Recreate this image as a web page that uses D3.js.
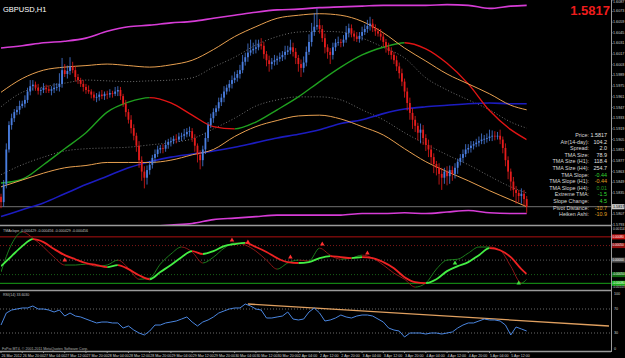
<!DOCTYPE html>
<html>
<head>
<meta charset="utf-8">
<script src="https://cdn.jsdelivr.net/npm/d3@7"></script>
<style>
  body { margin: 0; background: #000; overflow: hidden; }
  text { font-family: Arial, "Liberation Sans", sans-serif; }
</style>
</head>
<body>
<svg width="625" height="358"></svg>
<script>
// ---- data ----
const firstOpen = 1.5830;
const closes = [
  1.5823, 1.5846, 1.5892, 1.5924, 1.5933, 1.5941, 1.5944, 1.5949, 1.5952, 1.5957,
  1.5968, 1.5975, 1.5977, 1.5973, 1.5969, 1.5970, 1.5973, 1.5971, 1.5969, 1.5971,
  1.5973, 1.5974, 1.5978, 1.5996, 1.5991, 1.5995, 1.6001, 1.5996, 1.5987, 1.5983,
  1.5978, 1.5974, 1.5970, 1.5968, 1.5964, 1.5960, 1.5961, 1.5964, 1.5962, 1.5965,
  1.5964, 1.5966, 1.5965, 1.5968, 1.5970, 1.5962, 1.5952, 1.5941, 1.5931, 1.5920,
  1.5910, 1.5897, 1.5878, 1.5863, 1.5855, 1.5865, 1.5872, 1.5881, 1.5886, 1.5892,
  1.5894, 1.5893, 1.5898, 1.5902, 1.5903, 1.5906, 1.5905, 1.5909, 1.5910, 1.5912,
  1.5915, 1.5916, 1.5907, 1.5897, 1.5885, 1.5878, 1.5892, 1.5907, 1.5924, 1.5933,
  1.5941, 1.5946, 1.5954, 1.5960, 1.5968, 1.5973, 1.5978, 1.5983, 1.5986, 1.5991,
  1.5996, 1.6007, 1.6013, 1.6019, 1.6022, 1.6024, 1.6026, 1.6030, 1.6028, 1.6017,
  1.6009, 1.6004, 1.6007, 1.6009, 1.6011, 1.6013, 1.6016, 1.6020, 1.6022, 1.6026,
  1.6020, 1.6012, 1.6004, 1.5999, 1.6006, 1.6020, 1.6033, 1.6046, 1.6053, 1.6055,
  1.6050, 1.6038, 1.6026, 1.6020, 1.6016, 1.6026, 1.6032, 1.6033, 1.6032, 1.6036,
  1.6045, 1.6051, 1.6044, 1.6040, 1.6037, 1.6041, 1.6046, 1.6050, 1.6054, 1.6057,
  1.6051, 1.6047, 1.6044, 1.6040, 1.6033, 1.6026, 1.6021, 1.6016, 1.6009, 1.6001,
  1.5992, 1.5981, 1.5968, 1.5953, 1.5940, 1.5931, 1.5923, 1.5914, 1.5918, 1.5907,
  1.5898, 1.5892, 1.5882, 1.5873, 1.5868, 1.5860, 1.5855, 1.5863, 1.5857, 1.5865,
  1.5860, 1.5868, 1.5876, 1.5881, 1.5886, 1.5892, 1.5894, 1.5897, 1.5899, 1.5901,
  1.5903, 1.5905, 1.5906, 1.5907, 1.5909, 1.5910, 1.5909, 1.5910, 1.5905, 1.5894,
  1.5878, 1.5863, 1.5850, 1.5839, 1.5835, 1.5831, 1.5834, 1.5827, 1.5817
];
// wick lengths in pips above / below the body
const hiWick = [
  4, 6, 8, 5, 6, 4, 5, 7, 4, 6,  5, 8, 6, 4, 5, 3, 6, 4, 5, 4,
  6, 5, 14, 16, 8, 7, 12, 6, 5, 4,  3, 5, 4, 6, 3, 4, 5, 4, 6, 3,
  4, 5, 3, 6, 5, 4, 3, 5, 4, 6,  5, 4, 6, 5, 7, 6, 5, 4, 6, 5,
  4, 5, 6, 4, 5, 4, 6, 5, 4, 7,  5, 6, 4, 5, 3, 6, 5, 7, 4, 6,
  5, 4, 6, 5, 7, 4, 5, 6, 8, 5,  7, 9, 6, 12, 14, 8, 10, 6, 8, 5,
  4, 6, 5, 7, 4, 6, 5, 8, 6, 10,  6, 5, 4, 6, 8, 7, 10, 12, 18, 22,
  8, 5, 6, 4, 5, 6, 5, 7, 4, 6,  9, 6, 5, 4, 6, 5, 7, 6, 8, 9,
  6, 5, 4, 6, 5, 4, 6, 5, 4, 6,  5, 6, 4, 5, 7, 6, 5, 4, 8, 6,
  5, 7, 6, 5, 4, 6, 8, 5, 7, 6,  5, 6, 4, 5, 6, 7, 5, 6, 4, 5,
  6, 8, 5, 6, 9, 7, 6, 5, 8, 4,  6, 5, 4, 6, 5, 4, 7, 5, 4
];
const loWick = [
  8, 6, 5, 4, 6, 5, 4, 6, 3, 5,  4, 5, 6, 4, 5, 6, 4, 5, 3, 6,
  5, 4, 6, 5, 4, 6, 5, 4, 6, 5,  4, 6, 5, 3, 5, 4, 6, 5, 4, 5,
  6, 4, 5, 3, 6, 5, 4, 6, 5, 7,  6, 8, 10, 12, 14, 9, 6, 5, 7, 4,
  5, 6, 4, 5, 6, 4, 5, 3, 6, 5,  4, 6, 5, 8, 10, 12, 8, 6, 5, 4,
  6, 5, 4, 5, 6, 4, 5, 6, 4, 5,  6, 4, 5, 6, 4, 5, 6, 4, 5, 6,
  8, 10, 7, 5, 6, 4, 5, 6, 4, 5,  6, 8, 10, 12, 6, 5, 4, 6, 5, 4,
  6, 5, 8, 9, 12, 6, 5, 4, 6, 5,  4, 6, 5, 6, 4, 5, 6, 4, 5, 6,
  5, 6, 4, 5, 6, 7, 5, 6, 5, 6,  7, 6, 8, 10, 9, 12, 8, 10, 14, 9,
  8, 10, 9, 12, 10, 14, 16, 8, 12, 10,  9, 6, 8, 5, 6, 4, 5, 6, 5, 4,
  5, 4, 6, 5, 4, 6, 5, 4, 6, 7,  8, 10, 12, 9, 14, 8, 10, 9, 8
];

// indicator lines on the price chart, sampled every 8 bars
const bandBars = [0, 8, 16, 24, 32, 40, 48, 56, 64, 72, 80, 88, 96, 104, 112, 120, 128, 136, 144, 152, 160, 168, 176, 184, 192, 198];
const magentaUpper = [1.6025, 1.6028, 1.6032, 1.6034, 1.6038, 1.6047, 1.6053, 1.6055, 1.6058, 1.6060, 1.6064, 1.6068, 1.6072, 1.6075, 1.6076, 1.6078, 1.6079, 1.6080, 1.6081, 1.6081, 1.6081, 1.6082, 1.6081, 1.6077, 1.6080, 1.6081];
const magentaLower = [1.5774, 1.5776, 1.5779, 1.5781, 1.5784, 1.5787, 1.5789, 1.5791, 1.5793, 1.5795, 1.5800, 1.5802, 1.5804, 1.5806, 1.5806, 1.5806, 1.5806, 1.5808, 1.5808, 1.5809, 1.5808, 1.5810, 1.5812, 1.5809, 1.5808, 1.5808];
const orangeUpper = [1.5967, 1.5985, 1.5996, 1.6000, 1.6002, 1.6004, 1.6002, 1.6000, 1.6003, 1.6009, 1.6023, 1.6040, 1.6053, 1.6064, 1.6068, 1.6070, 1.6068, 1.6060, 1.6045, 1.6025, 1.6008, 1.5991, 1.5978, 1.5965, 1.5950, 1.5944];
const orangeLower = [1.5843, 1.5852, 1.5861, 1.5868, 1.5871, 1.5875, 1.5875, 1.5875, 1.5878, 1.5885, 1.5892, 1.5909, 1.5922, 1.5930, 1.5936, 1.5937, 1.5932, 1.5922, 1.5911, 1.5893, 1.5876, 1.5863, 1.5851, 1.5838, 1.5826, 1.5817];
const grayUpper = [1.5948, 1.5967, 1.5974, 1.5979, 1.5983, 1.5982, 1.5981, 1.5982, 1.5983, 1.5986, 1.6000, 1.6013, 1.6029, 1.6040, 1.6046, 1.6047, 1.6046, 1.6038, 1.6026, 1.6012, 1.5986, 1.5970, 1.5957, 1.5944, 1.5928, 1.5920];
const grayLower = [1.5859, 1.5872, 1.5882, 1.5890, 1.5893, 1.5894, 1.5895, 1.5898, 1.5901, 1.5906, 1.5919, 1.5933, 1.5949, 1.5957, 1.5961, 1.5961, 1.5957, 1.5944, 1.5931, 1.5914, 1.5899, 1.5885, 1.5872, 1.5857, 1.5843, 1.5835];
const tmaCenter = [1.5848, 1.5853, 1.5872, 1.5893, 1.5914, 1.5941, 1.5954, 1.5960, 1.5953, 1.5937, 1.5922, 1.5919, 1.5928, 1.5944, 1.5961, 1.5981, 1.6000, 1.6016, 1.6026, 1.6032, 1.6024, 1.6005, 1.5978, 1.5943, 1.5918, 1.5905];
const blueMA = [1.5804, 1.5813, 1.5822, 1.5834, 1.5846, 1.5857, 1.5868, 1.5876, 1.5882, 1.5886, 1.5890, 1.5895, 1.5901, 1.5907, 1.5912, 1.5918, 1.5926, 1.5931, 1.5939, 1.5945, 1.5948, 1.5950, 1.5952, 1.5953, 1.5952, 1.5952];

// TMA slope window, sampled every 4 bars
const slopeBars = [0, 4, 8, 12, 16, 20, 24, 28, 32, 36, 40, 44, 48, 52, 56, 60, 64, 68, 72, 76, 80, 84, 88, 92, 96, 100, 104, 108, 112, 116, 120, 124, 128, 132, 136, 140, 144, 148, 152, 156, 160, 164, 168, 172, 176, 180, 184, 188, 192, 196, 198];
const slopeMain = [-0.00021, 0.00014, 0.00048, 0.00072, 0.00062, 0.00038, 0.00017, 0.00003, -0.00010, -0.00017, -0.00024, -0.00017, -0.00031, -0.00052, -0.00066, -0.00041, -0.00017, 0.00010, 0.00031, 0.00021, 0.00031, 0.00048, 0.00055, 0.00059, 0.00045, 0.00028, 0.00007, -0.00007, -0.00010, -0.00007, 0.00007, 0.00014, 0.00010, 0.00007, 0.00010, 0.00007, -0.00007, -0.00028, -0.00059, -0.00076, -0.00079, -0.00066, -0.00038, -0.00021, -0.00007, 0.00017, 0.00041, 0.00034, 0.00010, -0.00031, -0.00048];
const slopeFast = [-0.00041, 0.00055, 0.00097, 0.00076, 0.00045, 0.00010, -0.00017, -0.00017, -0.00014, -0.00021, -0.00017, 0.00000, -0.00028, -0.00066, -0.00062, -0.00014, 0.00021, 0.00045, 0.00028, -0.00010, 0.00010, 0.00041, 0.00059, 0.00052, 0.00031, 0.00000, -0.00031, -0.00010, 0.00000, -0.00003, 0.00041, 0.00017, 0.00003, 0.00007, 0.00017, 0.00007, -0.00017, -0.00045, -0.00066, -0.00093, -0.00079, -0.00031, 0.00000, 0.00003, 0.00024, 0.00045, 0.00045, 0.00034, -0.00021, -0.00079, -0.00066];
const slopeLevels = [0.0008, 0.0005, 0, -0.0005, -0.0008];
const redMarkBars = [24, 87, 93, 109, 121, 138];
const redMarkVals = [-0.00007, 0.00062, 0.00055, 0.00003, 0.00048, 0.00017];
const greenMarkBars = [171, 195];
const greenMarkVals = [-0.00007, -0.00076];

// RSI(14), sampled every 2 bars
const rsiBars = d3.range(0, 199, 2);
const rsi = [
  43.3, 63.3, 68.3, 70.0, 71.7, 71.7, 75.0, 70.0, 70.0, 68.3,
  65.0, 68.3, 58.3, 63.3, 58.3, 56.7, 53.3, 50.0, 46.7, 48.3,
  48.3, 46.7, 46.7, 38.3, 41.7, 35.0, 30.0, 26.7, 33.3, 43.3,
  43.3, 46.7, 48.3, 50.0, 53.3, 56.7, 48.3, 41.7, 48.3, 51.7,
  56.7, 63.3, 66.7, 70.0, 71.7, 71.7, 78.3, 75.0, 70.0, 68.3,
  55.0, 55.0, 56.7, 58.3, 65.0, 53.3, 51.7, 53.3, 65.0, 71.7,
  63.3, 50.0, 51.7, 55.0, 60.0, 56.7, 55.0, 58.3, 60.0, 60.0,
  58.3, 53.3, 48.3, 38.3, 35.0, 33.3, 23.3, 30.0, 30.0, 30.0,
  28.3, 30.0, 30.0, 28.3, 30.0, 31.7, 38.3, 43.3, 46.7, 46.7,
  50.0, 53.3, 51.7, 51.7, 50.0, 43.3, 26.7, 40.0, 36.7, 33.3
];
const rsiLevels = [70, 30];
const rsiScaleLabels = [100, 70, 30, 0];
const rsiTrendBars = [93, 229];
const rsiTrendVals = [78.3, 41.7];

// axis labels and the info block
const priceTicks = [1.6087, 1.6073, 1.6059, 1.6045, 1.6031, 1.6017, 1.6003, 1.5989, 1.5975, 1.5961, 1.5947, 1.5933, 1.5919, 1.5905, 1.5891, 1.5877, 1.5863, 1.5849, 1.5835, 1.5807, 1.5793];
const lastPrice = 1.5817;
const timeLabels = ['26 Mar 2012', '26 Mar 20:00', '27 Mar 04:00', '27 Mar 12:00', '27 Mar 20:00', '28 Mar 04:00', '28 Mar 12:00', '28 Mar 20:00', '29 Mar 04:00', '29 Mar 12:00', '29 Mar 20:00', '30 Mar 04:00', '30 Mar 12:00', '30 Mar 20:00', '2 Apr 04:00', '2 Apr 12:00', '2 Apr 20:00', '3 Apr 04:00', '3 Apr 12:00', '3 Apr 20:00', '4 Apr 04:00', '4 Apr 12:00', '4 Apr 20:00', '5 Apr 04:00', '5 Apr 12:00'];
const infoLabels = ['Price:', 'Atr(14-day):', 'Spread:', 'TMA Size:', 'TMA Size (H1):', 'TMA Size (H4):', 'TMA Slope:', 'TMA Slope (H1):', 'TMA Slope (H4):', 'Extreme TMA:', 'Slope Change:', 'Pivot Distance:', 'Heiken Ashi:'];
const infoValues = ['1.5817', '104.2', '2.0', '78.9', '118.4', '254.7', '-0.44', '-0.44', '0.01', '-1.5', '4.5', '-10.7', '-10.9'];
const infoColors = ['#e0e0e0', '#e0e0e0', '#e0e0e0', '#e0e0e0', '#e0e0e0', '#e0e0e0', '#33dd33', '#e0a020', '#229922', '#33dd33', '#33dd33', '#e0a020', '#e0a020'];

// ---- drawing ----
const svg = d3.select('svg');
const defs = svg.append('defs');
const plotRight = 611;

svg.append('rect').attr('width', 625).attr('height', 358).attr('fill', '#000');

const xScale = d3.scaleLinear().domain([0, 229.5]).range([1, 1 + 229.5 * 2.655]);
const yPrice = d3.scaleLinear().domain([1.5793, 1.6088]).range([225, 0]);
const ySlope = d3.scaleLinear().domain([-0.00103, 0.00114]).range([290, 227]);
const yRsi = d3.scaleLinear().domain([0, 100]).range([351, 291]);

const clipRect = (id, y0, y1) => defs.append('clipPath').attr('id', id)
  .append('rect').attr('x', 0).attr('y', y0).attr('width', plotRight).attr('height', y1 - y0);
clipRect('mainClip', 0, 225);
clipRect('slopeClip', 227, 290);
clipRect('rsiClip', 291, 351);

const mainG = svg.append('g').attr('clip-path', 'url(#mainClip)');
const slopeG = svg.append('g').attr('clip-path', 'url(#slopeClip)');
const rsiG = svg.append('g').attr('clip-path', 'url(#rsiClip)');

const simpleLine = (g, bars, vals, yS, color, width, dash, curve) => {
  const line = d3.line().x((d, i) => xScale(bars[i])).y(d => yS(d)).curve(curve || d3.curveMonotoneX);
  g.append('path').attr('d', line(vals))
    .attr('fill', 'none').attr('stroke', color).attr('stroke-width', width)
    .attr('stroke-dasharray', dash || null);
};

// one smooth path, coloured by direction through clip rects
let clipCount = 0;
const dirLine = (g, bars, vals, yS, upColor, downColor, width) => {
  const runs = [];
  for (let j = 0; j < bars.length - 1; j++) {
    const up = vals[j + 1] >= vals[j];
    const last = runs[runs.length - 1];
    if (last && last.up === up) last.b = bars[j + 1];
    else runs.push({up, a: bars[j], b: bars[j + 1]});
  }
  const line = d3.line().x((d, i) => xScale(bars[i])).y(d => yS(d)).curve(d3.curveMonotoneX);
  [true, false].forEach(up => {
    const cid = 'dir' + (clipCount++);
    const cp = defs.append('clipPath').attr('id', cid);
    runs.filter(r => r.up === up).forEach(r => cp.append('rect')
      .attr('x', xScale(r.a)).attr('width', xScale(r.b) - xScale(r.a))
      .attr('y', 0).attr('height', 358));
    g.append('g').attr('clip-path', `url(#${cid})`)
      .append('path').attr('d', line(vals))
      .attr('fill', 'none').attr('stroke', up ? upColor : downColor).attr('stroke-width', width);
  });
};

// price window lines
mainG.append('line').attr('x1', 0).attr('x2', plotRight)
  .attr('y1', yPrice(lastPrice)).attr('y2', yPrice(lastPrice))
  .attr('stroke', '#707070').attr('stroke-width', 1);

simpleLine(mainG, bandBars, grayUpper, yPrice, '#8a8a8a', 0.8, '1,2');
simpleLine(mainG, bandBars, grayLower, yPrice, '#8a8a8a', 0.8, '1,2');
simpleLine(mainG, bandBars, blueMA, yPrice, '#1c1cc0', 1.6);
dirLine(mainG, bandBars, tmaCenter, yPrice, '#1fa01f', '#e01414', 1.4);
simpleLine(mainG, bandBars, orangeUpper, yPrice, '#e8a050', 1);
simpleLine(mainG, bandBars, orangeLower, yPrice, '#e8a050', 1);
simpleLine(mainG, bandBars, magentaUpper, yPrice, '#d63cd6', 1.6);
simpleLine(mainG, bandBars, magentaLower, yPrice, '#d63cd6', 1.6);

// candles
const candles = closes.map((c, i) => {
  const o = i === 0 ? firstOpen : closes[i - 1];
  return {
    i, o, c,
    h: Math.max(o, c) + hiWick[i] * 0.0001,
    l: Math.min(o, c) - loWick[i] * 0.0001
  };
});
const candleG = mainG.append('g');
candleG.selectAll('line').data(candles).enter().append('line')
  .attr('x1', d => xScale(d.i)).attr('x2', d => xScale(d.i))
  .attr('y1', d => yPrice(d.h)).attr('y2', d => yPrice(d.l))
  .attr('stroke', d => d.c >= d.o ? '#4a7ee0' : '#e41c1c').attr('stroke-width', 0.8);
candleG.selectAll('rect').data(candles).enter().append('rect')
  .attr('x', d => xScale(d.i) - 0.9).attr('width', 1.8)
  .attr('y', d => yPrice(Math.max(d.o, d.c)))
  .attr('height', d => Math.max(0.8, Math.abs(yPrice(d.o) - yPrice(d.c))))
  .attr('fill', d => d.c >= d.o ? '#4a7ee0' : '#e41c1c');

// slope window
const slopeLevelColors = ['#b01010', '#801818', '#5a5a5a', '#186018', '#18a018'];
const slopeLevelDash = [null, '1,2', '1,2', '1,2', null];
slopeLevels.forEach((v, k) => {
  slopeG.append('line').attr('x1', 0).attr('x2', plotRight)
    .attr('y1', ySlope(v)).attr('y2', ySlope(v))
    .attr('stroke', slopeLevelColors[k]).attr('stroke-width', 1)
    .attr('stroke-dasharray', slopeLevelDash[k]);
});
dirLine(slopeG, slopeBars, slopeFast, ySlope, '#1f8a1f', '#9a1a1a', 0.9);
dirLine(slopeG, slopeBars, slopeMain, ySlope, '#44ee44', '#ee2222', 1.8);
const tri = d3.symbol().type(d3.symbolTriangle).size(9);
redMarkBars.forEach((b, k) => slopeG.append('path').attr('d', tri())
  .attr('transform', `translate(${xScale(b)},${ySlope(redMarkVals[k]) - 2})`).attr('fill', '#ff3030'));
greenMarkBars.forEach((b, k) => slopeG.append('path').attr('d', tri())
  .attr('transform', `translate(${xScale(b)},${ySlope(greenMarkVals[k]) + 1})`).attr('fill', '#40e040'));

// RSI window
rsiLevels.forEach(v => {
  rsiG.append('line').attr('x1', 0).attr('x2', plotRight)
    .attr('y1', yRsi(v)).attr('y2', yRsi(v))
    .attr('stroke', '#6a6a6a').attr('stroke-dasharray', '1,2');
});
simpleLine(rsiG, rsiTrendBars, rsiTrendVals, yRsi, '#e0a060', 1.3, null, d3.curveLinear);
simpleLine(rsiG, rsiBars, rsi, yRsi, '#4a86e0', 1, null, d3.curveLinear);

// window frames
const frame = svg.append('g').attr('stroke', '#9a9a9a').attr('fill', 'none');
[225.5, 290.5, 351.5].forEach(y => frame.append('line')
  .attr('x1', 0).attr('x2', plotRight).attr('y1', y).attr('y2', y).attr('stroke-width', 1.5));
frame.append('line').attr('x1', plotRight + 0.5).attr('x2', plotRight + 0.5)
  .attr('y1', 0).attr('y2', 352);

// right-hand scales
const axisText = (x, y, t, fill, size) => svg.append('text').attr('x', x).attr('y', y)
  .attr('font-size', size || 3.7).attr('fill', fill || '#d0d0d0').attr('dominant-baseline', 'middle').text(t);
priceTicks.forEach(p => {
  svg.append('line').attr('x1', plotRight).attr('x2', plotRight + 1.5)
    .attr('y1', yPrice(p)).attr('y2', yPrice(p)).attr('stroke', '#9a9a9a');
  axisText(plotRight + 2, Math.max(2.5, yPrice(p)), p.toFixed(4));
});
svg.append('rect').attr('x', plotRight + 1).attr('y', yPrice(lastPrice) - 2.6)
  .attr('width', 12.5).attr('height', 5.2).attr('fill', '#c8c8c8');
axisText(plotRight + 2, yPrice(lastPrice), lastPrice.toFixed(4), '#000');

const slopeBoxColors = ['#c01010', '#901010', '#505050', '#106a10', '#18b018'];
axisText(plotRight + 2, 229.5, '0.00114', null, 3.3);
slopeLevels.forEach((v, k) => {
  svg.append('rect').attr('x', plotRight + 1).attr('y', ySlope(v) - 2.5)
    .attr('width', 13).attr('height', 5).attr('fill', slopeBoxColors[k]);
  axisText(plotRight + 1.5, ySlope(v), v.toFixed(5), '#fff', 3.1);
});
axisText(plotRight + 1.5, 287.4, '-0.00103', null, 3.1);

rsiScaleLabels.forEach(v => axisText(plotRight + 3, Math.min(Math.max(yRsi(v), 294), 349), String(v)));

// time axis
timeLabels.forEach((t, k) => {
  const x = xScale(k * 8);
  svg.append('line').attr('x1', x).attr('x2', x).attr('y1', 351).attr('y2', 353).attr('stroke', '#9a9a9a');
  svg.append('text').attr('x', x + 0.5).attr('y', 356.5).attr('font-size', 3.6)
    .attr('fill', '#d0d0d0').text(t);
});

// captions
svg.append('text').attr('x', 3).attr('y', 12).attr('font-size', 7.5).attr('fill', '#fff').text('GBPUSD,H1');
svg.append('text').attr('x', 610).attr('y', 15).attr('text-anchor', 'end')
  .attr('font-size', 13).attr('font-weight', 'bold').attr('fill', '#ee1c1c').text(lastPrice.toFixed(4));
svg.append('text').attr('x', 3).attr('y', 231.5).attr('font-size', 3.6).attr('fill', '#c0c0c0')
  .text('TMAslope -0.000429 -0.000456 -0.000429 -0.000456');
svg.append('text').attr('x', 3).attr('y', 295.5).attr('font-size', 3.6).attr('fill', '#c0c0c0')
  .text('RSI(14) 33.6030');
svg.append('text').attr('x', 2).attr('y', 349.5).attr('font-size', 3.6).attr('fill', '#b0b0b0')
  .text('FxPro MT4, \u00a9 2001-2011 MetaQuotes Software Corp.');

// info block
infoLabels.forEach((t, k) => {
  const y = 137 + k * 6.6;
  svg.append('text').attr('x', 589).attr('y', y).attr('text-anchor', 'end')
    .attr('font-size', 5.4).attr('fill', '#d8d8d8').text(t);
  svg.append('text').attr('x', 607).attr('y', y).attr('text-anchor', 'end')
    .attr('font-size', 5.4).attr('fill', infoColors[k]).text(infoValues[k]);
});
</script>
</body>
</html>
